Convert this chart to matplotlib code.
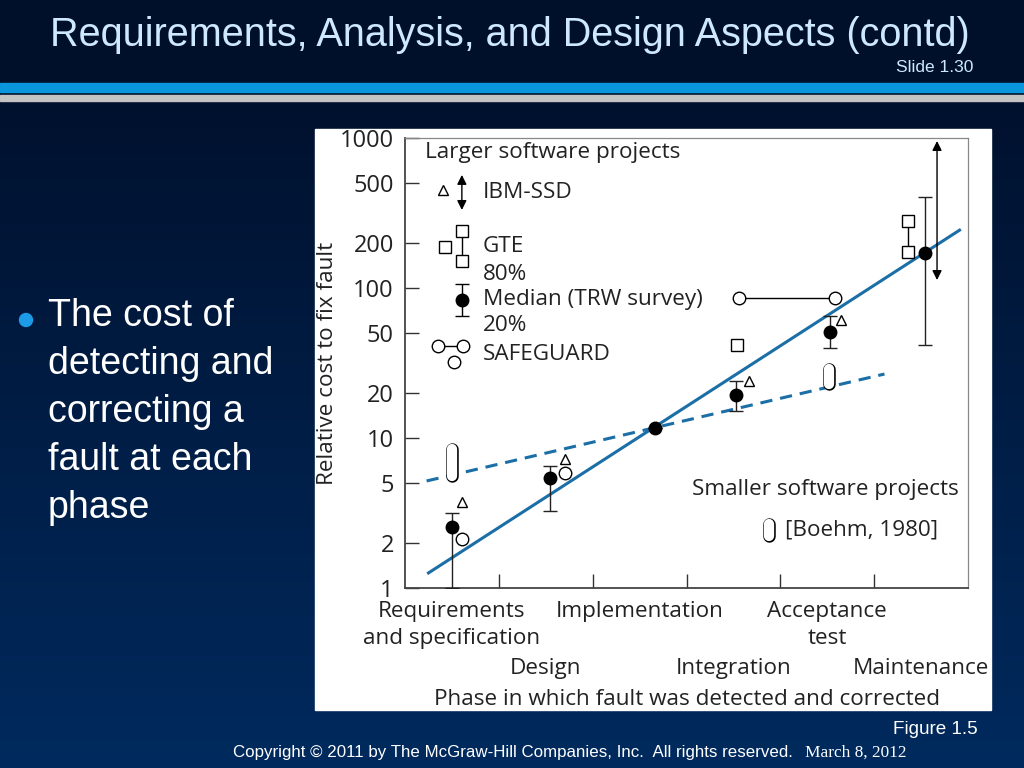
import numpy as np
import matplotlib
matplotlib.use("Agg")
import matplotlib.pyplot as plt
from matplotlib.patches import Rectangle, Circle

# ---------------------------------------------------------------
# data (x = phase index, y = relative cost)
phases = ["Requirements\nand specification", "Design", "Implementation",
          "Integration", "Acceptance\ntest", "Maintenance"]
phase_pos = [0, 1, 2, 3, 4, 5]
phase_row = [0, 1, 0, 1, 0, 1]   # staggered label rows

# TRW survey medians with 20% / 80% bars
trw_x = [0.0, 1.05, 2.16, 3.03, 4.03, 5.04]
trw_med = [2.55, 5.4, 11.7, 19.3, 51.0, 171.0]
trw_lo = [1.0, 3.26, 11.7, 15.1, 39.8, 41.7]
trw_hi = [3.16, 6.5, 11.7, 24.0, 65.0, 405.0]

# IBM-SSD (triangles) + range arrow at maintenance
ibm_x = [0.11, 1.2, 3.17, 4.15]
ibm_y = [3.74, 7.24, 24.0, 61.0]
ibm_arrow_x = 5.17
ibm_arrow_lo, ibm_arrow_hi = 113.0, 955.0

# GTE (squares)
gte_x = [3.04, 4.86, 4.86]
gte_y = [42.0, 174.0, 279.0]

# SAFEGUARD (circles)
safe_x = [0.11, 1.2]
safe_y = [2.12, 5.85]
safe_range_x = [3.06, 4.08]
safe_range_y = [86.0, 86.0]

# Boehm 1980, smaller projects (pills)
boehm_x = [0.0, 4.02]
boehm_lo = [5.6, 22.9]
boehm_hi = [8.4, 28.9]

# fitted trend lines
large_fit_x = [-0.25, 5.41]
large_fit_y = [1.26, 243.0]
small_fit_x = [-0.27, 4.61]
small_fit_y = [5.17, 26.7]

yticks = [1, 2, 5, 10, 20, 50, 100, 200, 500, 1000]

bullet_lines = ["The cost of", "detecting and", "correcting a", "fault at each", "phase"]

# ---------------------------------------------------------------
NARROW = ["Liberation Sans Narrow", "Liberation Sans", "DejaVu Sans"]
CHART = ["Open Sans", "DejaVu Sans"]
BLUE = "#1b6ea6"
FS = 16.2

fig = plt.figure(figsize=(10.24, 7.68), dpi=100)

# slide background in pixel coords
bg = fig.add_axes([0, 0, 1, 1])
bg.set_xlim(0, 1024)
bg.set_ylim(768, 0)
bg.axis("off")
top = np.array([0x00, 0x11, 0x2e]) / 255
bot = np.array([0x00, 0x2a, 0x5e]) / 255
rows = np.linspace(0, 1, 768)
frac = np.clip((rows * 768 - 100) / 668, 0, 1)
grad = top[None, :] * (1 - frac[:, None]) + bot[None, :] * frac[:, None]
grad[:100] = np.array([0x00, 0x10, 0x2b]) / 255
bg.imshow(grad[:, None, :].repeat(4, axis=1), extent=[0, 1024, 768, 0],
          aspect="auto", zorder=0)
bg.add_patch(Rectangle((0, 83), 1024, 9, color="#0a96dc", zorder=1))
bg.add_patch(Rectangle((0, 95), 1024, 6, color="#c3c3c3", zorder=1))
bg.add_patch(Rectangle((315, 129), 676, 581, color="white", zorder=1))

bg.text(510, 35, "Requirements, Analysis, and Design Aspects (contd)",
        family=NARROW, fontsize=28.5, color="#cde8ff", ha="center", va="center")
bg.text(973, 68, "Slide 1.30", family=NARROW, fontsize=12.5, color="#cde8ff",
        ha="right", va="center")

bg.add_patch(Circle((26, 320), 6.5, color="#1e9be6", zorder=2))
for i, line in enumerate(bullet_lines):
    bg.text(48, 316 + i * 48, line, family=["Liberation Sans", "DejaVu Sans"],
            fontsize=27, color="white", ha="left", va="center")

bg.text(978, 729, "Figure 1.5", family=NARROW, fontsize=13.6, color="white",
        ha="right", va="center")
bg.text(233, 753, "Copyright \u00a9 2011 by The McGraw-Hill Companies, Inc.  All rights reserved.",
        family=NARROW, fontsize=12.2, color="white", ha="left", va="center")
bg.text(805, 753, "March 8, 2012", family=["Liberation Serif", "DejaVu Serif"],
        fontsize=12.4, color="white", ha="left", va="center")

# ---------------------------------------------------------------
# the chart
ax = fig.add_axes([405 / 1024, 1 - 588 / 768, 563 / 1024, 450 / 768])
ax.set_facecolor("white")
ax.set_yscale("log")
ax.set_xlim(-0.5, 5.5)
ax.set_ylim(1, 1000)
ax.set_yticks(yticks)
ax.set_yticklabels([str(v) for v in yticks], family=CHART, fontsize=17, color="#222222")
ax.yaxis.set_minor_locator(matplotlib.ticker.NullLocator())
ax.set_xticks([p + 0.5 for p in phase_pos[:-1]])
ax.set_xticklabels([])
ax.tick_params(axis="both", direction="in", length=10, width=1, color="#333333")
ax.tick_params(axis="y", pad=8)
for side in ["left", "bottom"]:
    ax.spines[side].set_color("#444444")
    ax.spines[side].set_linewidth(1.3)
for side in ["top", "right"]:
    ax.spines[side].set_color("#888888")
    ax.spines[side].set_linewidth(0.9)

xt = ax.get_xaxis_transform()
for p, lab, r in zip(phase_pos, phases, phase_row):
    ax.text(p, -0.03 - r * 0.125, lab, transform=xt, family=CHART, fontsize=FS,
            color="#222222", ha="center", va="top", linespacing=1.32)
ax.text(0.5, -0.248, "Phase in which fault was detected and corrected",
        transform=ax.transAxes, family=CHART, fontsize=FS, color="#222222",
        ha="center", va="center")
ax.set_ylabel("Relative cost to fix fault", family=CHART, fontsize=FS,
              color="#222222", labelpad=1)

# trend lines
ax.plot(large_fit_x, large_fit_y, color=BLUE, lw=2.2, zorder=2)
ax.plot(small_fit_x, small_fit_y, color=BLUE, lw=2.2, ls=(0, (4, 2.6)), zorder=2)

# TRW medians
err = [np.array(trw_med) - np.array(trw_lo), np.array(trw_hi) - np.array(trw_med)]
ax.errorbar(trw_x, trw_med, yerr=err, fmt="o", color="black", ms=9,
            ecolor="#222222", elinewidth=1, capsize=5, capthick=1, zorder=4)

# IBM-SSD
ax.plot(ibm_x, ibm_y, "^", ms=7, mfc="white", mec="black", mew=1, zorder=4)
ax.annotate("", xy=(ibm_arrow_x, ibm_arrow_hi), xytext=(ibm_arrow_x, ibm_arrow_lo),
            arrowprops=dict(arrowstyle="<|-|>", color="black", lw=1,
                            mutation_scale=14, shrinkA=0, shrinkB=0), zorder=4)

# GTE
ax.plot(gte_x[1:], gte_y[1:], color="black", lw=1, zorder=3)
ax.plot(gte_x, gte_y, "s", ms=8, mfc="white", mec="black", mew=1, zorder=4)

# SAFEGUARD
ax.plot(safe_range_x, safe_range_y, color="black", lw=1, zorder=3)
ax.plot(safe_range_x, safe_range_y, "o", ms=9, mfc="white", mec="black", mew=1, zorder=4)
ax.plot(safe_x, safe_y, "o", ms=9, mfc="white", mec="black", mew=1, zorder=4)

# Boehm pills
for bx, lo, hi in zip(boehm_x, boehm_lo, boehm_hi):
    ax.plot([bx, bx], [lo, hi], color="black", lw=9, solid_capstyle="round", zorder=5)
    ax.plot([bx, bx], [lo, hi], color="white", lw=7.4, solid_capstyle="round", zorder=6)

# legend keys (axes fraction layout)
ta = ax.transAxes
lab_kw = dict(transform=ta, family=CHART, fontsize=FS, color="#222222",
              ha="left", va="center")
ax.text(0.0355, 0.967, "Larger software projects", **lab_kw)
ax.plot([0.0675], [0.884], "^", ms=7, mfc="white", mec="black", mew=1, transform=ta)
ax.annotate("", xy=(0.101, 0.918), xytext=(0.101, 0.84), xycoords=ta, textcoords=ta,
            arrowprops=dict(arrowstyle="<|-|>", color="black", lw=1,
                            mutation_scale=14, shrinkA=0, shrinkB=0))
ax.text(0.1385, 0.878, "IBM-SSD", **lab_kw)
ax.plot([0.101, 0.101], [0.727, 0.793], color="black", lw=1, transform=ta)
ax.plot([0.071, 0.101, 0.101], [0.758, 0.727, 0.793], "s", ms=8, mfc="white",
        mec="black", mew=1, transform=ta)
ax.text(0.1385, 0.758, "GTE", **lab_kw)
ax.text(0.1385, 0.696, "80%", **lab_kw)
ax.errorbar([0.101], [0.64], yerr=[[0.036], [0.036]], fmt="o", color="black", ms=9,
            elinewidth=1, capsize=5, capthick=1, transform=ta)
ax.text(0.1385, 0.64, "Median (TRW survey)", **lab_kw)
ax.text(0.1385, 0.584, "20%", **lab_kw)
ax.plot([0.0586, 0.103], [0.538, 0.538], color="black", lw=1, transform=ta)
ax.plot([0.0586, 0.103, 0.087], [0.538, 0.538, 0.502], "o", ms=9, mfc="white",
        mec="black", mew=1, transform=ta)
ax.text(0.1385, 0.518, "SAFEGUARD", **lab_kw)
ax.text(0.51, 0.218, "Smaller software projects", **lab_kw)
ax.plot([0.6465, 0.6465], [0.115, 0.143], color="black", lw=9,
        solid_capstyle="round", transform=ta)
ax.plot([0.6465, 0.6465], [0.115, 0.143], color="white", lw=7.4,
        solid_capstyle="round", transform=ta)
ax.text(0.675, 0.129, "[Boehm, 1980]", **lab_kw)

fig.savefig("out.png", dpi=100)
